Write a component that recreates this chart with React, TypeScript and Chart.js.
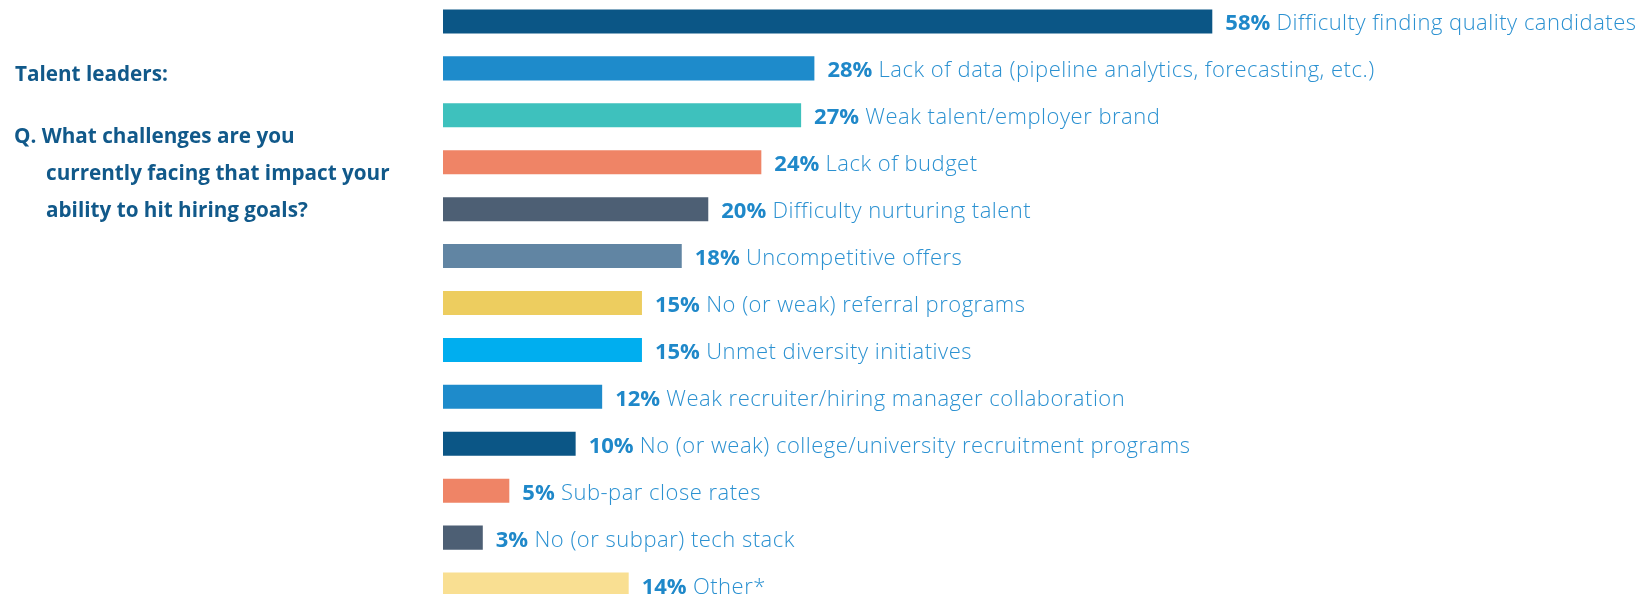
import React, { useEffect, useRef } from "react";
import { Chart, registerables } from "chart.js";

Chart.register(...registerables);

const categories = [
  "Difficulty finding quality candidates",
  "Lack of data (pipeline analytics, forecasting, etc.)",
  "Weak talent/employer brand",
  "Lack of budget",
  "Difficulty nurturing talent",
  "Uncompetitive offers",
  "No (or weak) referral programs",
  "Unmet diversity initiatives",
  "Weak recruiter/hiring manager collaboration",
  "No (or weak) college/university recruitment programs",
  "Sub-par close rates",
  "No (or subpar) tech stack",
  "Other*",
];

const values = [58, 28, 27, 24, 20, 18, 15, 15, 12, 10, 5, 3, 14];

const barColors = [
  "#0b5686",
  "#1e8bcb",
  "#3ec1bd",
  "#ef8466",
  "#4d5f74",
  "#6185a3",
  "#edcd5f",
  "#00aeef",
  "#1e8bcb",
  "#0b5686",
  "#ef8466",
  "#4d5f74",
  "#f9df92",
];

const titleLines = ["Talent leaders:"];
const questionLines = [
  "Q. What challenges are you",
  "currently facing that impact your",
  "ability to hit hiring goals?",
];

const FONT = "'Open Sans', Lato, sans-serif";
const CANVAS_TOP = -2;

const labelPlugin = {
  id: "barLabels",
  afterDatasetsDraw(chart: any) {
    const ctx = chart.ctx;
    const meta = chart.getDatasetMeta(0);
    ctx.save();
    ctx.textBaseline = "alphabetic";
    ctx.textAlign = "left";
    meta.data.forEach((bar: any, i: number) => {
      const x = bar.x + 13;
      const y = bar.y + 9;
      const pct = values[i] + "%";
      (ctx as any).letterSpacing = "0px";
      ctx.font = `700 22px ${FONT}`;
      ctx.fillStyle = "#1f88c9";
      ctx.fillText(pct, x, y);
      const w = ctx.measureText(pct).width;
      ctx.font = `300 22px ${FONT}`;
      (ctx as any).letterSpacing = "0.5px";
      ctx.fillStyle = "#2b91d1";
      ctx.fillText(" " + categories[i], x + w, y);
    });
    (ctx as any).letterSpacing = "0px";

    // left side question text
    const off = -CANVAS_TOP;
    ctx.fillStyle = "#11598a";
    ctx.font = `700 20.7px ${FONT}`;
    ctx.fillText(titleLines[0], 15, 81 + off);
    ctx.fillText(questionLines[0], 14, 143 + off);
    ctx.fillText(questionLines[1], 46, 180 + off);
    ctx.fillText(questionLines[2], 46, 217 + off);
    ctx.restore();
  },
};

export default function App() {
  const canvasRef = useRef<HTMLCanvasElement | null>(null);

  useEffect(() => {
    if (!canvasRef.current) return;
    const chart = new Chart(canvasRef.current, {
      type: "bar",
      data: {
        labels: categories,
        datasets: [
          {
            data: values,
            backgroundColor: barColors,
            borderWidth: 0,
            barPercentage: 0.512,
            categoryPercentage: 1,
          },
        ],
      },
      options: {
        indexAxis: "y",
        animation: false,
        responsive: true,
        maintainAspectRatio: false,
        layout: { padding: { left: 443, right: 0, top: 0, bottom: 0 } },
        plugins: {
          legend: { display: false },
          tooltip: { enabled: false },
        },
        scales: {
          x: { display: false, min: 0, max: 91 },
          y: { display: false },
        },
      },
      plugins: [labelPlugin],
    });
    return () => chart.destroy();
  }, []);

  return (
    <div
      style={{
        position: "fixed",
        left: 0,
        top: CANVAS_TOP,
        width: 1650,
        height: 610,
        background: "#ffffff",
      }}
    >
      <canvas ref={canvasRef} />
    </div>
  );
}
